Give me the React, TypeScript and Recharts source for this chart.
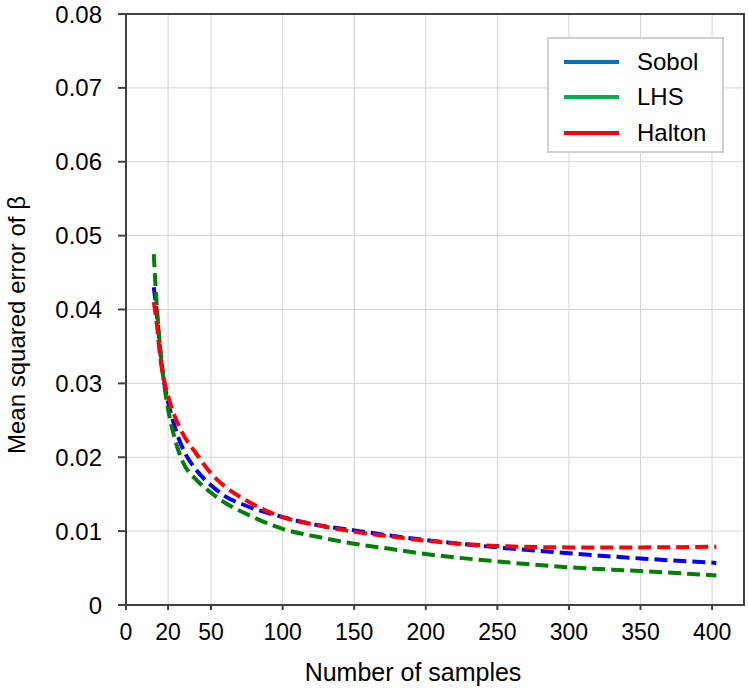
import React from 'react';
import {
  LineChart, Line, XAxis, YAxis, CartesianGrid, Legend, ReferenceArea
} from 'recharts';

// number of samples
const samples = [10, 12, 14, 17, 20, 25, 30, 40, 50, 60, 75, 100, 125, 150, 175, 200, 250, 300, 350, 403];
// mean squared error of beta per sampling method
const sobol = [0.043, 0.0398, 0.0353, 0.0304, 0.0275, 0.0239, 0.0213, 0.0182, 0.0162, 0.0147, 0.0134, 0.0119, 0.0108, 0.0101, 0.0094, 0.0088, 0.0078, 0.007, 0.0063, 0.0057];
const lhs = [0.0475, 0.0408, 0.0358, 0.0303, 0.0265, 0.0223, 0.0195, 0.0169, 0.0152, 0.0138, 0.0123, 0.0103, 0.0092, 0.0083, 0.0076, 0.0069, 0.0059, 0.0051, 0.0046, 0.004];
const halton = [0.041, 0.0383, 0.0344, 0.0306, 0.0283, 0.0254, 0.0233, 0.0204, 0.0178, 0.016, 0.0141, 0.0119, 0.0108, 0.0099, 0.0093, 0.0087, 0.008, 0.0078, 0.0078, 0.0079];

const X_MIN = -9.4;
const X_MAX = 422.3;
const xTicks = [X_MIN, 20, 50, 100, 150, 200, 250, 300, 350, 400];
const yTicks = [0, 0.01, 0.02, 0.03, 0.04, 0.05, 0.06, 0.07, 0.08];

const series = [
  { key: 'sobol', name: 'Sobol', stroke: '#0000ff', legend: '#0070c0' },
  { key: 'lhs', name: 'LHS', stroke: '#008000', legend: '#00b050' },
  { key: 'halton', name: 'Halton', stroke: '#ff0000', legend: '#ff0000' },
];

const data = samples.map((n, i) => ({ n, sobol: sobol[i], lhs: lhs[i], halton: halton[i] }));

const FONT = '"Liberation Sans", Arial, sans-serif';
const AXIS = '#404040';

const renderLegend = () => (
  <div style={{
    position: 'relative', width: 177, height: 116, boxSizing: 'border-box',
    border: '2px solid #d0d0d0', background: '#fff', fontFamily: FONT,
  }}>
    {series.map((s, i) => (
      <div key={s.key} style={{ position: 'absolute', left: 0, top: 23 + i * 35.3 - 2, width: '100%' }}>
        <div style={{ position: 'absolute', left: 15, top: 0, width: 55, height: 4, background: s.legend }} />
        <div style={{ position: 'absolute', left: 88, top: -13, fontSize: 24, lineHeight: '30px', color: '#000' }}>
          {s.name}
        </div>
      </div>
    ))}
  </div>
);

const App: React.FC = () => (
  <div style={{ position: 'absolute', left: 0, top: 0, background: '#fff' }}>
    <LineChart width={748} height={690} data={data} margin={{ top: 14, right: 4, bottom: 0, left: 0 }}>
      <CartesianGrid stroke="#d4d4d4" strokeWidth={1} />
      <XAxis
        dataKey="n"
        type="number"
        domain={[X_MIN, X_MAX]}
        ticks={xTicks}
        tickFormatter={(v: number) => (v < 0 ? '0' : String(v))}
        height={85}
        tickSize={5}
        tickMargin={14}
        stroke={AXIS}
        strokeWidth={2}
        tick={{ fill: '#000', fontSize: 23, fontFamily: FONT }}
        label={{
          content: () => (
            <text x={413} y={681} textAnchor="middle" fontSize={25} fontFamily={FONT} fill="#000">
              Number of samples
            </text>
          ),
        }}
      />
      <YAxis
        type="number"
        domain={[0, 0.08]}
        ticks={yTicks}
        tickFormatter={(v: number) => (v === 0 ? '0' : v.toFixed(2))}
        width={126}
        tickSize={8}
        tickMargin={16}
        stroke={AXIS}
        strokeWidth={2}
        tick={{ fill: '#000', fontSize: 24, fontFamily: FONT }}
        label={{
          content: () => (
            <text transform="rotate(-90)" x={-325} y={25} textAnchor="middle" fontSize={24} fontFamily={FONT} fill="#000">
              Mean squared error of β
            </text>
          ),
        }}
      />
      <ReferenceArea x1={X_MIN} x2={X_MAX} y1={0} y2={0.08} fill="none" stroke={AXIS} strokeWidth={2} />
      {series.map((s) => (
        <Line
          key={s.key}
          type="monotone"
          dataKey={s.key}
          name={s.name}
          stroke={s.stroke}
          strokeWidth={4}
          strokeDasharray="13 6"
          dot={false}
          isAnimationActive={false}
        />
      ))}
      <Legend
        layout="vertical"
        align="center"
        verticalAlign="middle"
        content={renderLegend}
        wrapperStyle={{ left: 547, top: 37, width: 177 }}
      />
    </LineChart>
  </div>
);

export default App;
